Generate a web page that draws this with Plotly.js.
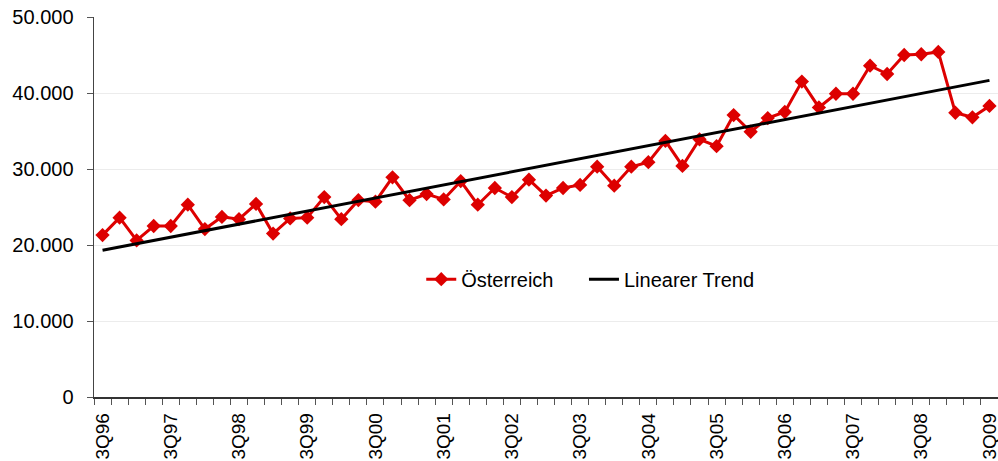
<!DOCTYPE html>
<html>
<head>
<meta charset="utf-8">
<script src="https://cdn.plot.ly/plotly-3.0.1.min.js"></script>
<style>html,body{margin:0;padding:0;background:#fff;}#chart{width:998px;height:461px;}</style>
</head>
<body>
<div id="chart"></div>
<script>
const quarters = ['3Q96','4Q96','1Q97','2Q97','3Q97','4Q97','1Q98','2Q98','3Q98','4Q98','1Q99','2Q99','3Q99','4Q99','1Q00','2Q00','3Q00','4Q00','1Q01','2Q01','3Q01','4Q01','1Q02','2Q02','3Q02','4Q02','1Q03','2Q03','3Q03','4Q03','1Q04','2Q04','3Q04','4Q04','1Q05','2Q05','3Q05','4Q05','1Q06','2Q06','3Q06','4Q06','1Q07','2Q07','3Q07','4Q07','1Q08','2Q08','3Q08','4Q08','1Q09','2Q09','3Q09'];
const oesterreich = [21300,23600,20600,22500,22500,25300,22100,23700,23400,25400,21500,23500,23600,26300,23400,25900,25700,28900,25900,26700,26000,28400,25300,27500,26300,28600,26500,27500,27900,30300,27800,30300,30900,33700,30400,33900,33000,37100,34900,36700,37500,41500,38100,39900,39900,43600,42500,45000,45100,45400,37400,36800,38300];
const seriesNames = ['Österreich','Linearer Trend'];
const yTicks = [0,10000,20000,30000,40000,50000];

// least-squares linear trend over the quarter index
const n = oesterreich.length;
let sx=0, sy=0, sxx=0, sxy=0;
oesterreich.forEach((v,i)=>{sx+=i; sy+=v; sxx+=i*i; sxy+=i*v;});
const slope = (n*sxy - sx*sy)/(n*sxx - sx*sx);
const intercept = (sy - slope*sx)/n;
const trend = oesterreich.map((v,i)=>intercept + slope*i);

const tickText = quarters.map(q => q.startsWith('3Q') ? q : '');

const font = {family:'Liberation Sans, Arial, sans-serif', color:'#000'};

const traces = [
  {x: quarters, y: oesterreich, name: seriesNames[0], type:'scatter', mode:'lines+markers',
   line:{color:'#dd0000', width:3}, marker:{symbol:'diamond', size:11, color:'#dd0000'},
   legend:'legend'},
  {x: quarters, y: trend, name: seriesNames[1], type:'scatter', mode:'lines',
   line:{color:'#000', width:3}, legend:'legend2'}
];

const legendBase = {orientation:'h', y:0.31, xanchor:'left', yanchor:'middle',
  font:Object.assign({size:20}, font), bgcolor:'rgba(0,0,0,0)'};

const layout = {
  width:998, height:461,
  margin:{l:94, r:0, t:17, b:64},
  paper_bgcolor:'#fff', plot_bgcolor:'#fff',
  separators:',.',
  font:Object.assign({size:20}, font),
  showlegend:true,
  hovermode:false,
  legend:Object.assign({x:0.362}, legendBase),
  legend2:Object.assign({x:0.542}, legendBase),
  xaxis:{type:'category', categoryorder:'array', categoryarray:quarters,
    range:[-0.5, quarters.length-0.5],
    tickvals:quarters, ticktext:tickText, tickangle:-90, tickson:'boundaries',
    ticks:'outside', ticklen:6, tickcolor:'#555', tickwidth:1,
    showline:true, linecolor:'#333', linewidth:1.5, showgrid:false, zeroline:false,
    ticklabelstandoff:7,
    tickfont:Object.assign({size:19}, font)},
  yaxis:{range:[0,50000], tickvals:yTicks, tickformat:',d',
    ticks:'outside', ticklen:6, tickcolor:'#555', tickwidth:1,
    showline:true, linecolor:'#444', linewidth:1.5,
    showgrid:true, gridcolor:'#ececec', gridwidth:1, zeroline:false,
    ticklabelstandoff:9,
    tickfont:Object.assign({size:20}, font)}
};

Plotly.newPlot('chart', traces, layout, {displayModeBar:false, staticPlot:true});
</script>
</body>
</html>
